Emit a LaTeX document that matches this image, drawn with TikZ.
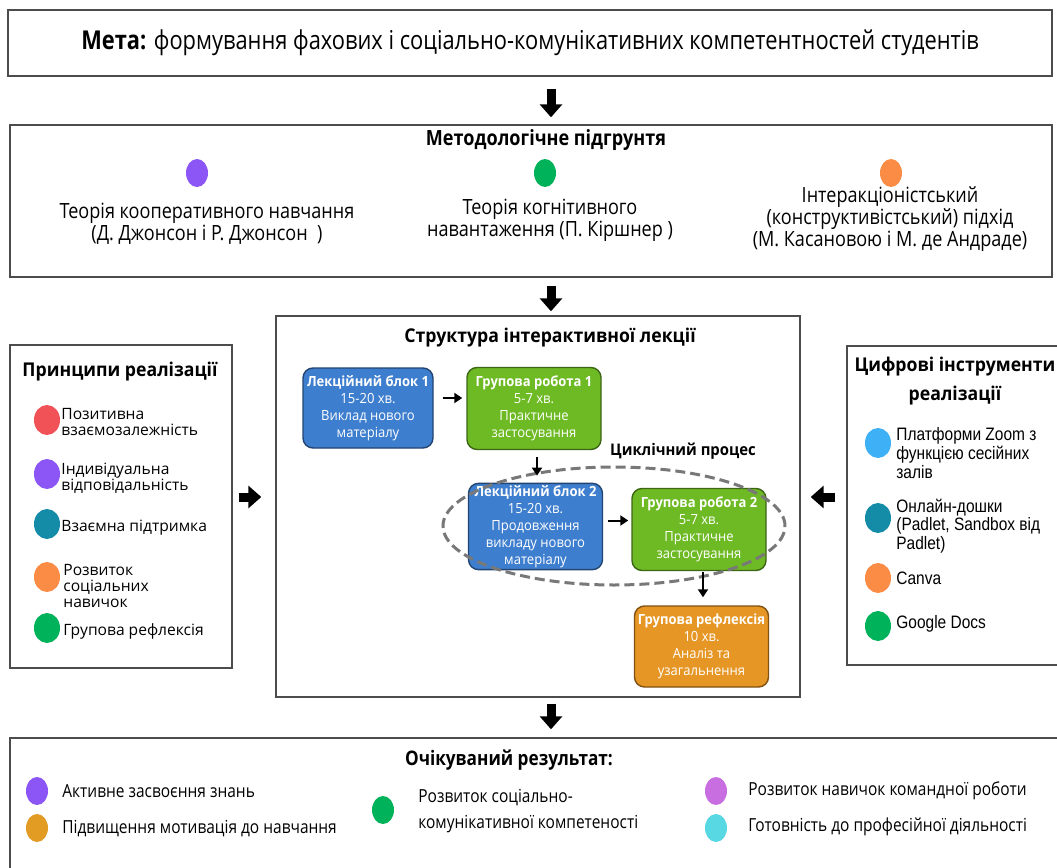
\documentclass[tikz,border=0pt]{standalone}
\usepackage{fontspec}
\setmainfont{Open Sans}
\newfontfamily\narrowfont[FakeStretch=0.86]{Open Sans}
\newfontfamily\goalfont[FakeStretch=0.84]{Open Sans}
\newfontfamily\semifont[FakeStretch=0.93]{Open Sans}
\newfontfamily\arialnarrow[FakeStretch=0.86]{Liberation Sans}
\usetikzlibrary{arrows.meta,shapes.geometric}

\definecolor{dotviolet}{RGB}{139,86,245}
\definecolor{dotgreen}{RGB}{0,178,90}
\definecolor{dotorange}{RGB}{250,140,70}
\definecolor{dotred}{RGB}{240,82,88}
\definecolor{dotteal}{RGB}{20,140,168}
\definecolor{dotsky}{RGB}{62,176,246}
\definecolor{dotgold}{RGB}{226,155,35}
\definecolor{dotpink}{RGB}{200,110,225}
\definecolor{dotcyan}{RGB}{88,216,226}
\definecolor{lecblue}{RGB}{62,126,206}
\definecolor{grpgreen}{RGB}{110,186,36}
\definecolor{reforange}{RGB}{230,150,36}
\definecolor{loopgray}{RGB}{120,120,120}

\tikzset{
  panel/.style={draw=black!70, line width=0.7pt, fill=white, inner sep=0pt},
  bigdot/.style={ellipse, fill=#1, inner sep=0pt, minimum width=13pt, minimum height=15pt},
  smalldot/.style={ellipse, fill=#1, inner sep=0pt, minimum width=11pt, minimum height=14pt},
  headtext/.style={font=\narrowfont\bfseries\fontsize{10.5}{12}\selectfont},
  boxhead/.style={font=\semifont\bfseries\fontsize{9.5}{14.5}\selectfont, align=center},
  methtext/.style={font=\narrowfont\fontsize{10.5}{11}\selectfont, align=center},
  listtext/.style={anchor=west, align=left, inner sep=0pt, font=\fontsize{7.8}{8}\selectfont},
  tooltext/.style={anchor=west, align=left, inner sep=0pt, font=\arialnarrow\fontsize{9}{7.5}\selectfont},
  restext/.style={anchor=west, align=left, inner sep=0pt, font=\narrowfont\fontsize{9}{11}\selectfont},
  stage/.style={draw=#1!55!black, fill=#1, rounded corners=5pt, line width=0.7pt, text=white,
    align=center, inner sep=1pt, minimum width=67pt, minimum height=41pt,
    font=\semifont\fontsize{7}{8.5}\selectfont},
  bigarrow/.style={line width=4.5pt, -{Triangle[width=11pt,length=6.5pt]}},
  smallarrow/.style={line width=1pt, -{Triangle[width=5pt,length=4pt]}},
  cycleloop/.style={draw=loopgray, dashed, dash pattern=on 5pt off 2.5pt, line width=1.5pt,
    ellipse, minimum width=171pt, minimum height=59pt}
}

\begin{document}
\begin{tikzpicture}[x=0.5pt,y=-0.5pt]
\useasboundingbox (0,0) rectangle (1057,868);

\node[panel, minimum width=522pt, minimum height=33pt, font=\goalfont\fontsize{13}{15}\selectfont] (goal) at (530,43)
  {\textbf{Мета:} формування фахових і соціально-комунікативних компетентностей студентів};

\node[panel, minimum width=521pt, minimum height=76pt] (method) at (531,201) {};
\node[headtext] (methodtitle) at (546,140) {Методологічне підгрунтя};
\node[smalldot=dotviolet] (m1) at (197,173) {};
\node[smalldot=dotgreen] (m2) at (545,173) {};
\node[smalldot=dotorange] (m3) at (891,173) {};
\node[methtext] (mt1) at (207,224) {Теорія кооперативного навчання\\(Д. Джонсон і Р. Джонсон\ \ )};
\node[methtext] (mt2) at (550,220) {Теорія когнітивного\\навантаження (П. Кіршнер )};
\node[methtext] (mt3) at (890,219) {Інтеракціоністський\\(конструктивістський) підхід\\(М. Касановою і М. де Андраде)};

\node[panel, minimum width=111pt, minimum height=161.5pt] (principles) at (121,506.5) {};
\node[boxhead] (ptitle) at (120,372) {Принципи реалізації};
\node[bigdot=dotred] (p1) at (47,420) {};
\node[bigdot=dotviolet] (p2) at (47,474) {};
\node[bigdot=dotteal] (p3) at (47,524) {};
\node[bigdot=dotorange] (p4) at (47,577) {};
\node[bigdot=dotgreen] (p5) at (47,628) {};
\node[listtext] (pt1) at (61,422) {Позитивна\\взаємозалежність};
\node[listtext] (pt2) at (61,478) {Індивідуальна\\відповідальність};
\node[listtext] (pt3) at (61,528) {Взаємна підтримка};
\node[listtext] (pt4) at (63,586) {Розвиток\\соціальних\\навичок};
\node[listtext] (pt5) at (63,631) {Групова рефлексія};

\node[panel, minimum width=262pt, minimum height=190.5pt] (lecture) at (538,506.5) {};
\node[boxhead] (ltitle) at (550,338) {Структура інтерактивної лекції};
\node[stage=lecblue, minimum width=65pt, minimum height=40pt] (lb1) at (368,408)
  {\textbf{Лекційний блок 1}\\15-20 хв.\\Виклад нового\\матеріалу};
\node[stage=grpgreen] (gr1) at (534,408.5)
  {\textbf{Групова робота 1}\\5-7 хв.\\Практичне\\застосування};
\node[stage=lecblue] (lb2) at (535.5,526.5)
  {\textbf{Лекційний блок 2}\\15-20 хв.\\Продовження\\викладу нового\\матеріалу};
\node[stage=grpgreen] (gr2) at (699,529.5)
  {\textbf{Групова робота 2}\\5-7 хв.\\Практичне\\застосування};
\node[stage=reforange, minimum height=40.5pt] (refl) at (701.5,646.5)
  {\textbf{Групова рефлексія}\\10 хв.\\Аналіз та\\узагальнення};
\node[cycleloop] (cycle) at (614,526) {};
\node[font=\semifont\bfseries\fontsize{8}{10}\selectfont] (cycletitle) at (683,451) {Циклічний процес};

\draw[smallarrow, shorten <=4.5pt, shorten >=2pt] ([yshift=5pt]lb1.east) -- ([yshift=5pt]lb1.east -| gr1.west);
\draw[smallarrow, shorten <=3.5pt, shorten >=3.5pt] ([xshift=1.5pt]gr1.south) -- ([xshift=1.5pt]gr1.south |- lb2.north);
\draw[smallarrow, shorten <=2.5pt, shorten >=1.5pt] ([yshift=3pt]lb2.east) -- ([yshift=3pt]lb2.east -| gr2.west);
\draw[smallarrow, shorten <=0.5pt, shorten >=4pt] ([xshift=2pt]gr2.south) -- ([xshift=2pt]gr2.south |- refl.north);

\node[panel, minimum width=109pt, minimum height=159.5pt] (tools) at (956,505.5) {};
\node[boxhead] (ttitle) at (955,381) {Цифрові інструменти\\реалізації};
\node[bigdot=dotsky] (d1) at (878,443) {};
\node[bigdot=dotteal] (d2) at (878,518) {};
\node[bigdot=dotorange] (d3) at (878,578) {};
\node[bigdot=dotgreen] (d4) at (878,626) {};
\node[tooltext] (dt1) at (896,453) {Платформи Zoom з\\функцією сесійних\\залів};
\node[tooltext] (dt2) at (896,526) {Онлайн-дошки\\(Padlet, Sandbox від\\Padlet)};
\node[tooltext] (dt3) at (896,578) {Canva};
\node[tooltext] (dt4) at (896,624) {Google Docs};

\node[panel, minimum width=527.5pt, minimum height=68.5pt] (result) at (537.5,806.5) {};
\node[headtext, font=\narrowfont\bfseries\fontsize{10}{12}\selectfont] (rtitle) at (509,760) {Очікуваний результат:};
\node[smalldot=dotviolet] (r1) at (37,791) {};
\node[smalldot=dotgold] (r2) at (37,828) {};
\node[smalldot=dotgreen] (r3) at (383,810) {};
\node[smalldot=dotpink] (r4) at (716,791) {};
\node[smalldot=dotcyan] (r5) at (716,828) {};
\node[restext] (rt1) at (62,791) {Активне засвоєння знань};
\node[restext] (rt2) at (62,829) {Підвищення мотивація до навчання};
\node[restext] (rt3) at (418,811) {Розвиток соціально-\\[2pt]комунікативної компетеності};
\node[restext] (rt4) at (748,791) {Розвиток навичок командної роботи};
\node[restext] (rt5) at (748,827) {Готовність до професійної діяльності};

\coordinate (ax) at (551,0);
\coordinate (ay) at (0,497);
\draw[bigarrow, shorten <=6pt, shorten >=3.5pt] (goal.south -| ax) -- (method.north -| ax);
\draw[bigarrow, shorten <=4pt, shorten >=2pt] (method.south -| ax) -- (lecture.north -| ax);
\draw[bigarrow, shorten <=3pt, shorten >=4pt] (lecture.south -| ax) -- (result.north -| ax);
\draw[bigarrow, shorten <=3pt, shorten >=7pt] (principles.east |- ay) -- (lecture.west |- ay);
\draw[bigarrow, shorten <=5.5pt, shorten >=5pt] (tools.west |- ay) -- (lecture.east |- ay);
\end{tikzpicture}
\end{document}
